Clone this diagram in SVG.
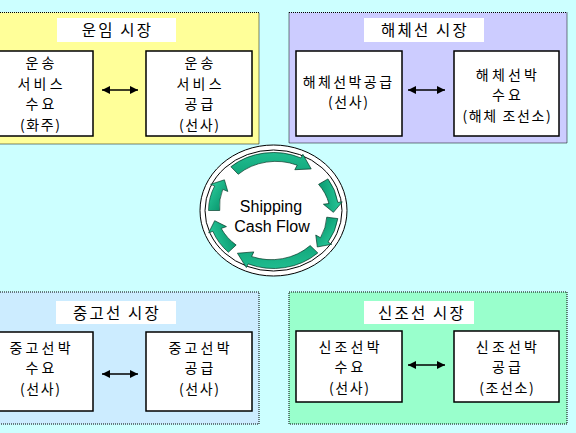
<svg xmlns="http://www.w3.org/2000/svg" xmlns:xlink="http://www.w3.org/1999/xlink" width="576" height="433" viewBox="0 0 576 433">
<style>
.panel{stroke:#000;stroke-width:1;stroke-dasharray:1 1}
.title{fill:#fff}
.box{fill:#fff;stroke:#000;stroke-width:1.5}
.t{font-family:'Noto Sans CJK KR','Liberation Sans',sans-serif;font-size:15.5px;letter-spacing:2.2px;fill:#000;text-anchor:middle}
.b{font-family:'Noto Sans CJK KR','Liberation Sans',sans-serif;font-size:14px;letter-spacing:3.2px;fill:#000;text-anchor:middle}
.p{letter-spacing:1.6px}
.en{font-family:'Liberation Sans',Arial,sans-serif;font-size:16px;fill:#000;text-anchor:middle}
.conn{stroke:#000;stroke-width:1.5;fill:none;marker-start:url(#ah);marker-end:url(#ah)}
.garrow{fill:url(#g);stroke:#003322;stroke-width:0.6}
</style>
<defs>
<marker id="ah" viewBox="0 0 10 10" refX="10" refY="5" markerUnits="userSpaceOnUse" markerWidth="9" markerHeight="8" orient="auto-start-reverse">
<path d="M0,0 L10,5 L0,10 Z" fill="#000"/>
</marker>
<linearGradient id="g" x1="0" y1="0" x2="1" y2="1">
<stop offset="0" stop-color="#008a62"/>
<stop offset="1" stop-color="#2fd3a3"/>
</linearGradient>
<path id="longArrow" d="M58,0 A58,58 0 0,1 23.59,52.98 L25.22,56.64 L9.29,52.69 L18.30,41.11 L20.34,45.68 A50,50 0 0,0 48,0 Z"/>
<path id="shortArrow" d="M58,0 A58,58 0 0,1 52.57,24.51 L56.19,26.20 L43.83,30.69 L40.78,19.02 L45.32,21.13 A50,50 0 0,0 48,0 Z"/>
</defs>
<rect x="0" y="0" width="576" height="433" fill="#CCFFFF"/>

<g id="panel-freight">
<rect class="panel" x="-10" y="12.5" width="269" height="131.5" fill="#FFFF99"/>
<rect class="title" x="57" y="18" width="119" height="24"/>
<text class="t" x="117.5" y="36">운임 시장</text>
</g>
<g id="node-freight-demand">
<rect class="box" x="-13" y="51" width="106" height="85"/>
<text class="b" y="68"><tspan x="41.6">운송</tspan><tspan x="41.6" dy="20.5">서비스</tspan><tspan x="41.6" dy="20.5">수요</tspan><tspan class="p" x="40.8" dy="20.5">(화주)</tspan></text>
</g>
<g id="node-freight-supply">
<rect class="box" x="146" y="51" width="106" height="85"/>
<text class="b" y="68"><tspan x="200.6">운송</tspan><tspan x="200.6" dy="20.5">서비스</tspan><tspan x="200.6" dy="20.5">공급</tspan><tspan class="p" x="199.8" dy="20.5">(선사)</tspan></text>
</g>

<g id="panel-demolition">
<rect class="panel" x="289" y="12.5" width="278" height="130.5" fill="#CCCCFF"/>
<rect class="title" x="364" y="18" width="120" height="24"/>
<text class="t" x="425" y="36">해체선 시장</text>
</g>
<g id="node-demolition-supply">
<rect class="box" x="296" y="51" width="106" height="85"/>
<text class="b" y="86.5"><tspan x="348.6" style="letter-spacing:2.4px">해체선박공급</tspan><tspan class="p" x="348.8" dy="20.5">(선사)</tspan></text>
</g>
<g id="node-demolition-demand">
<rect class="box" x="454" y="51" width="105" height="85"/>
<text class="b" y="79.5"><tspan x="508">해체선박</tspan><tspan x="508" dy="20.5">수요</tspan><tspan x="507.4" dy="20.5" style="letter-spacing:1.6px">(해체 조선소)</tspan></text>
</g>

<g id="panel-secondhand">
<rect class="panel" x="-10" y="292" width="269" height="132" fill="#CCECFF"/>
<rect class="title" x="56" y="301" width="120" height="23"/>
<text class="t" x="117" y="319">중고선 시장</text>
</g>
<g id="node-secondhand-demand">
<rect class="box" x="-13" y="332" width="106" height="79"/>
<text class="b" y="352.5"><tspan x="41.6">중고선박</tspan><tspan x="41.6" dy="20.5">수요</tspan><tspan class="p" x="40.8" dy="20.5">(선사)</tspan></text>
</g>
<g id="node-secondhand-supply">
<rect class="box" x="146" y="332" width="106" height="79"/>
<text class="b" y="352.5"><tspan x="200.6">중고선박</tspan><tspan x="200.6" dy="20.5">공급</tspan><tspan class="p" x="199.8" dy="20.5">(선사)</tspan></text>
</g>

<g id="panel-newbuilding">
<rect class="panel" x="289" y="292" width="278" height="132" fill="#99FFCC"/>
<rect class="title" x="364" y="301" width="110" height="23"/>
<text class="t" x="422" y="319">신조선 시장</text>
</g>
<g id="node-newbuilding-demand">
<rect class="box" x="296" y="331" width="106" height="71"/>
<text class="b" y="351.5"><tspan x="350.6">신조선박</tspan><tspan x="350.6" dy="20.5">수요</tspan><tspan class="p" x="349.8" dy="20.5">(선사)</tspan></text>
</g>
<g id="node-newbuilding-supply">
<rect class="box" x="454" y="331" width="105" height="71"/>
<text class="b" y="351.5"><tspan x="508">신조선박</tspan><tspan x="508" dy="20.5">공급</tspan><tspan class="p" x="507.2" dy="20.5">(조선소)</tspan></text>
</g>

<g id="node-cashflow">
<ellipse cx="273.5" cy="210.5" rx="73.5" ry="65.5" fill="#fff" stroke="#000" stroke-width="1"/>
<ellipse cx="273.5" cy="210.5" rx="68.5" ry="60.5" fill="none" stroke="#000" stroke-width="1"/>
<g transform="translate(273.5,210.5) scale(1.12,1)">
<use xlink:href="#longArrow" class="garrow" transform="rotate(-131)"/>
<use xlink:href="#shortArrow" class="garrow" transform="rotate(-33)"/>
<use xlink:href="#shortArrow" class="garrow" transform="rotate(8)"/>
<use xlink:href="#longArrow" class="garrow" transform="rotate(47)"/>
<use xlink:href="#shortArrow" class="garrow" transform="rotate(134)"/>
<use xlink:href="#shortArrow" class="garrow" transform="rotate(180)"/>
</g>
<text class="en" y="211.5"><tspan x="271">Shipping</tspan><tspan x="272" dy="20">Cash Flow</tspan></text>
</g>

<g id="connectors">
<line class="conn" x1="102" y1="90" x2="138" y2="90"/>
<line class="conn" x1="408" y1="90" x2="445" y2="90"/>
<line class="conn" x1="102" y1="374" x2="138" y2="374"/>
<line class="conn" x1="408" y1="365" x2="445" y2="365"/>
</g>
</svg>
